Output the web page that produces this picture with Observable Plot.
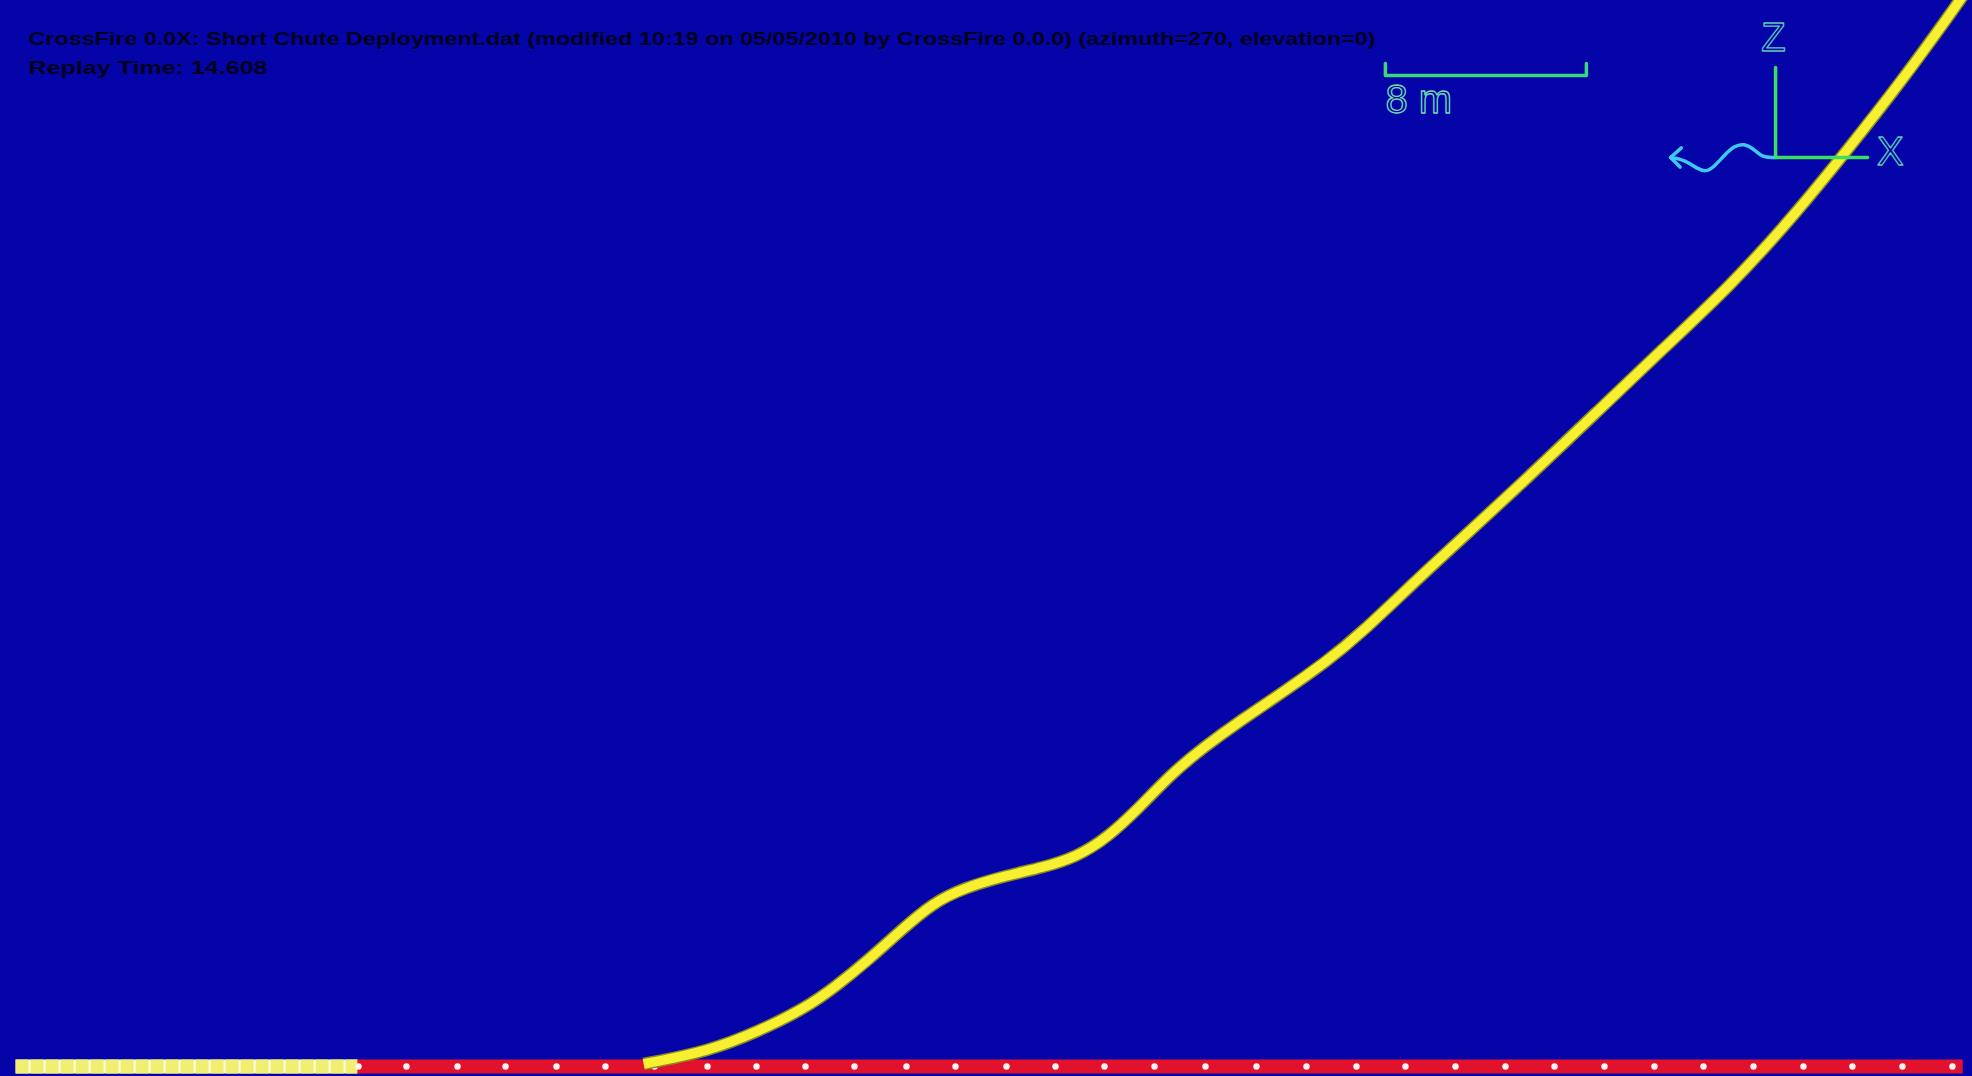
<!DOCTYPE html>
<html>
<head>
<meta charset="utf-8">
<script src="https://cdn.jsdelivr.net/npm/d3@7"></script>
<script src="https://cdn.jsdelivr.net/npm/@observablehq/plot@0.6"></script>
<style>
  html, body { margin: 0; padding: 0; background: #0404a8; overflow: hidden; }
  #chart svg { display: block; }
</style>
</head>
<body>
<div id="chart"></div>
<script>
// ---- data (metres; x = horizontal distance, z = height above ground) ----
const headerLines = [
  "CrossFire 0.0X: Short Chute Deployment.dat (modified 10:19 on 05/05/2010 by CrossFire 0.0.0) (azimuth=270, elevation=0)",
  "Replay Time: 14.608"
];

// airborne cable (yellow)
const cableX = [25.6, 25.9, 28.14, 30.17, 32.00, 33.27, 34.55, 35.82, 37.09, 38.37, 40.04, 41.47, 42.79, 44.06, 45.33, 46.61, 47.88, 49.35, 50.99, 52.82, 53.97, 56.88, 60.26, 63.68, 66.23, 68.82, 71.36, 73.59, 75.62, 77.65, 78.30];
const cableZ = [0.10, 0.16, 0.60, 1.40, 2.30, 3.20, 4.25, 5.40, 6.50, 7.12, 7.60, 7.92, 8.32, 9.11, 10.31, 11.66, 12.70, 13.77, 14.85, 16.16, 17.07, 19.86, 22.93, 26.19, 28.62, 31.04, 33.83, 36.58, 39.16, 41.95, 42.90];

// cable laid on the ground
const stowedX = [0.60, 14.21];     // yellow (stowed) section
const groundX = [14.21, 78.10];    // red section on ground
const groundNodes = [14.25, 16.16, 18.19, 20.10, 22.13, 24.08, 26.03, 28.14, 30.09, 32.04, 33.99, 36.06, 38.01, 40.04, 41.99, 43.94, 45.93, 47.96, 49.99, 51.98, 53.97, 55.92, 57.91, 59.90, 61.85, 63.84, 65.83, 67.78, 69.77, 71.76, 73.71, 75.70, 77.69];

// scale bar (8 m)
const scaleBarX = [55.12, 55.12, 63.12, 63.12];
const scaleBarZ = [39.92, 39.44, 39.44, 39.92];
const scaleLabel = "8 m";

// orientation triad
const triadZaxisX = [70.65, 70.65];
const triadZaxisZ = [39.76, 36.18];
const triadXaxisX = [70.57, 74.31];
const triadXaxisZ = [36.18, 36.18];
const windX = [70.57, 70.10, 69.80, 69.40, 69.00, 68.60, 68.20, 67.86, 67.54, 67.18, 66.87, 66.47];
const windZ = [36.18, 36.20, 36.50, 36.74, 36.64, 36.26, 35.80, 35.60, 35.74, 35.98, 36.12, 36.18];
const windHeadX = [66.90, 66.47, 66.85];
const windHeadZ = [36.56, 36.18, 35.80];
const triadLabels = ["Z", "X"];
const triadLabelX = [70.57, 75.22];
const triadLabelZ = [40.92, 36.38];

// ---- build tables ----
const cable = cableX.map((x, i) => ({x, z: cableZ[i]}));
const stowed = stowedX.map(x => ({x, z: 0}));
const ground = groundX.map(x => ({x, z: 0}));
const nodes = groundNodes.map(x => ({x, z: 0}));
const scaleBar = scaleBarX.map((x, i) => ({x, z: scaleBarZ[i]}));
const zAxis = triadZaxisX.map((x, i) => ({x, z: triadZaxisZ[i]}));
const xAxis = triadXaxisX.map((x, i) => ({x, z: triadXaxisZ[i]}));
const wind = windX.map((x, i) => ({x, z: windZ[i]}));
const windHead = windHeadX.map((x, i) => ({x, z: windHeadZ[i]}));
const labels = triadLabels.map((t, i) => ({t, x: triadLabelX[i], z: triadLabelZ[i]}));

const W = 1972, H = 1076;
const pxPerM = 25.125;
const chart = Plot.plot({
  width: W,
  height: H,
  margin: 0,
  style: {background: "#0404a8", fontFamily: "Liberation Sans, Arial, sans-serif"},
  x: {domain: [0, W / pxPerM], axis: null},
  y: {domain: [-10 / pxPerM, 1066 / pxPerM], axis: null},
  marks: [
    // ground cable
    Plot.line(stowed, {x: "x", y: "z", stroke: "#fffde0", strokeWidth: 14, strokeLinecap: "butt"}),
    Plot.line(stowed, {x: "x", y: "z", stroke: "#f2ee70", strokeWidth: 14, strokeLinecap: "butt", strokeDasharray: "13,2"}),
    Plot.line(ground, {x: "x", y: "z", stroke: "#e3122c", strokeWidth: 14, strokeLinecap: "butt"}),
    Plot.dot(nodes, {x: "x", y: "z", r: 3.2, fill: "#fff4f4", stroke: "none"}),
    // airborne cable
    Plot.line(cable, {x: "x", y: "z", curve: "basis", stroke: "#8a8a20", strokeWidth: 12.5, strokeLinecap: "butt", strokeLinejoin: "round"}),
    Plot.line(cable, {x: "x", y: "z", curve: "basis", stroke: "#f6f030", strokeWidth: 9.5, strokeLinecap: "butt", strokeLinejoin: "round"}),
    // scale bar
    Plot.line(scaleBar, {x: "x", y: "z", stroke: "#3fd47e", strokeWidth: 3.5}),
    Plot.text([scaleLabel], {x: scaleBarX[0], y: 38.45, text: d => d, fill: "none", stroke: "#6fdcae", strokeWidth: 1.3, fontSize: 40, fontWeight: 300, textAnchor: "start", lineAnchor: "middle"}),
    // triad
    Plot.line(zAxis, {x: "x", y: "z", stroke: "#3fdc62", strokeWidth: 3.5}),
    Plot.line(xAxis, {x: "x", y: "z", stroke: "#3fdc62", strokeWidth: 3.5}),
    Plot.line(wind, {x: "x", y: "z", curve: "basis", stroke: "#3fc8f2", strokeWidth: 3.5}),
    Plot.line(windHead, {x: "x", y: "z", stroke: "#3fc8f2", strokeWidth: 3.5}),
    Plot.text(labels, {x: "x", y: "z", text: "t", fill: "none", stroke: "#5cc8b8", strokeWidth: 1.3, fontSize: 40, fontWeight: 300, textAnchor: "middle", lineAnchor: "middle"}),
    // header
    Plot.text([headerLines[0]], {frameAnchor: "top-left", dx: 28, dy: 31, text: d => d, fill: "#02021e", fontSize: 19, fontWeight: 600, lineAnchor: "top"}),
    Plot.text([headerLines[1]], {frameAnchor: "top-left", dx: 28, dy: 60, text: d => d, fill: "#02021e", fontSize: 19, fontWeight: 600, lineAnchor: "top"})
  ]
});
document.getElementById("chart").append(chart);

// stretch header lines to the reference widths
d3.select(chart).selectAll("text").each(function() {
  const t = this.textContent;
  if (t === headerLines[0]) { this.setAttribute("textLength", 1347); this.setAttribute("lengthAdjust", "spacingAndGlyphs"); }
  if (t === headerLines[1]) { this.setAttribute("textLength", 239); this.setAttribute("lengthAdjust", "spacingAndGlyphs"); }
});
</script>
</body>
</html>
